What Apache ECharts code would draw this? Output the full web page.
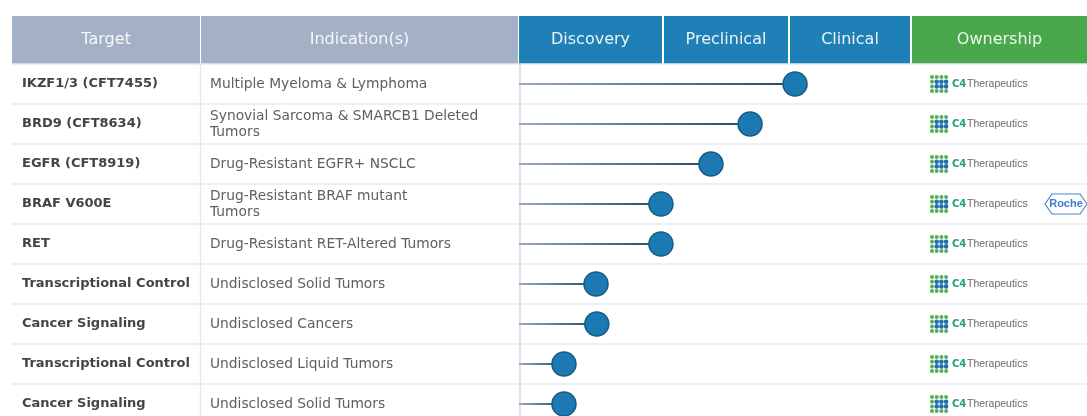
<!DOCTYPE html>
<html>
<head>
<meta charset="utf-8">
<script src="https://cdn.jsdelivr.net/npm/echarts@6/dist/echarts.min.js"></script>
<style>
  html, body { margin: 0; padding: 0; background: #fff; }
  #chart { width: 1087px; height: 416px; }
</style>
</head>
<body>
<div id="chart"></div>
<script>
// ---- data ----
var targets = ['IKZF1/3 (CFT7455)', 'BRD9 (CFT8634)', 'EGFR (CFT8919)', 'BRAF V600E', 'RET',
  'Transcriptional Control', 'Cancer Signaling', 'Transcriptional Control', 'Cancer Signaling'];
var indications = ['Multiple Myeloma & Lymphoma', 'Synovial Sarcoma & SMARCB1 Deleted\nTumors',
  'Drug-Resistant EGFR+ NSCLC', 'Drug-Resistant BRAF mutant\nTumors', 'Drug-Resistant RET-Altered Tumors',
  'Undisclosed Solid Tumors', 'Undisclosed Cancers', 'Undisclosed Liquid Tumors', 'Undisclosed Solid Tumors'];
// progress in % of the Discovery -> Clinical span
var progress = [70.6, 59.1, 49.1, 36.3, 36.3, 19.7, 19.9, 11.5, 11.5];
var owners = ['C4', 'C4', 'C4', 'C4+Roche', 'C4', 'C4', 'C4', 'C4', 'C4'];
var headers = ['Target', 'Indication(s)', 'Discovery', 'Preclinical', 'Clinical', 'Ownership'];

// ---- layout ----
var W = 1087, TOP = 64, ROW_H = 40;
var colEdges = [[12, 200], [201, 518], [519, 662], [664, 788], [790, 910], [912, 1087]];
var headColors = ['#a4b0c5', '#a4b0c5', '#1e80b6', '#1e80b6', '#1e80b6', '#48a84b'];
var PIPE_L = 519, PIPE_R = 910, GRID_L = 12;
var pxPerUnit = (PIPE_R - PIPE_L) / 100;
var xMin = -(PIPE_L - GRID_L) / pxPerUnit;
var xMax = 100 + (W - PIPE_R) / pxPerUnit;
var ownX = (930 - PIPE_L) / pxPerUnit;

var rowIds = targets.map(function (t, i) { return 'r' + i; });
var font = '"DejaVu Sans", sans-serif';

var graphics = [];
colEdges.forEach(function (c, i) {
  graphics.push({
    type: 'rect', shape: {x: c[0], y: 16, width: c[1] - c[0], height: TOP - 16},
    style: {fill: headColors[i]},
    textContent: {style: {text: headers[i], fill: 'rgba(255,255,255,0.9)', font: '16px ' + font}},
    textConfig: {position: 'inside'}
  });
});
graphics.push({type: 'line', shape: {x1: 200.5, y1: TOP, x2: 200.5, y2: 416}, style: {stroke: '#e6e9f0', lineWidth: 1.5}});
graphics.push({type: 'line', shape: {x1: 520, y1: TOP, x2: 520, y2: 416}, style: {stroke: '#e1e4ec', lineWidth: 2}});

function ownerItem(params, api) {
  var p = api.coord([api.value(0), api.value(1)]);
  var x = p[0], y = p[1];
  var kids = [];
  for (var r = 0; r < 4; r++) {
    for (var c = 0; c < 4; c++) {
      var green = (r === 0 || r === 3 || c === 0);
      kids.push({
        type: 'circle',
        shape: {cx: x + 2 + c * 4.7, cy: y - 7 + r * 4.7, r: green ? 2 : 2.3},
        style: {fill: green ? '#4fb24f' : '#1f6fb0'}
      });
    }
  }
  kids.push({type: 'text', x: x + 22, y: y, style: {text: 'C4', fill: '#22a07a', font: 'bold 10px ' + font, verticalAlign: 'middle'}});
  kids.push({type: 'text', x: x + 37, y: y, style: {text: 'Therapeutics', fill: '#6a6a6a', font: '10.5px "Liberation Sans", sans-serif', verticalAlign: 'middle'}});
  if (owners[api.value(2)].indexOf('Roche') >= 0) {
    var cx = x + 136, hw = 21, hh = 10;
    kids.push({
      type: 'polygon',
      shape: {points: [[cx - hw, y], [cx - hw + 7, y - hh], [cx + hw - 7, y - hh], [cx + hw, y], [cx + hw - 7, y + hh], [cx - hw + 7, y + hh]]},
      style: {fill: '#fff', stroke: '#4a86d0', lineWidth: 1.2}
    });
    kids.push({type: 'text', x: cx, y: y, style: {text: 'Roche', fill: '#3f7bc9', font: 'bold 11px "Liberation Sans Narrow", "Liberation Sans", sans-serif', align: 'center', verticalAlign: 'middle'}});
  }
  return {type: 'group', children: kids};
}

var chart = echarts.init(document.getElementById('chart'));
var option = {
  animation: false,
  backgroundColor: '#fff',
  grid: {left: GRID_L, right: 0, top: TOP, height: ROW_H * targets.length, outerBoundsMode: 'none'},
  xAxis: {type: 'value', min: xMin, max: xMax, show: false},
  yAxis: [{
    type: 'category', data: rowIds, inverse: true,
    axisLine: {show: false}, axisTick: {show: false},
    splitLine: {show: true, interval: 0, lineStyle: {color: '#e8eaf0', width: 1.5}},
    axisLabel: {
      inside: true, align: 'left', margin: 10, interval: 0,
      color: '#444', fontFamily: font, fontWeight: 'bold', fontSize: 13,
      formatter: function (v, i) { return targets[i]; }
    }
  }, {
    type: 'category', data: rowIds, inverse: true, position: 'left',
    axisLine: {show: false}, axisTick: {show: false}, splitLine: {show: false},
    axisLabel: {
      inside: true, align: 'left', margin: 198, interval: 0, lineHeight: 16,
      color: '#606060', fontFamily: font, fontSize: 13.8,
      formatter: function (v, i) { return indications[i]; }
    }
  }],
  graphic: graphics,
  series: [{
    type: 'bar', barWidth: 2, silent: true,
    data: progress,
    itemStyle: {
      color: new echarts.graphic.LinearGradient(0, 0, 1, 0, [
        {offset: 0, color: '#9aa9bd'}, {offset: 1, color: '#274666'}
      ])
    }
  }, {
    type: 'scatter', symbolSize: 24, silent: true,
    data: progress.map(function (v, i) { return [v, i]; }),
    itemStyle: {color: '#1c79b1', borderColor: '#175a86', borderWidth: 1.5, opacity: 1}
  }, {
    type: 'custom', silent: true,
    data: owners.map(function (o, i) { return [ownX, i, i]; }),
    renderItem: ownerItem
  }]
};
chart.setOption(option);
</script>
</body>
</html>
